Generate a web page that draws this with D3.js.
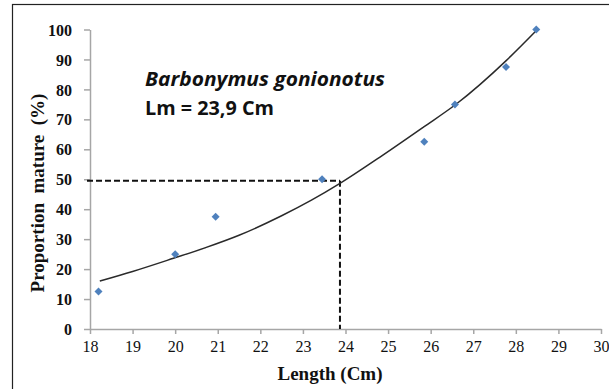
<!DOCTYPE html>
<html>
<head>
<meta charset="utf-8">
<script src="https://cdn.jsdelivr.net/npm/d3@7"></script>
<style>
  body { margin: 0; background: #fff; }
  svg { display: block; }
</style>
</head>
<body>
<svg id="chart" width="609" height="389"></svg>
<script>
// observed points
let lengths = [18.2, 20, 20.95, 23.45, 25.85, 26.57, 27.77, 28.48]
let proportions = [12.5, 25, 37.5, 50, 62.5, 75, 87.5, 100]

// fitted curve
let curveX = [18.23, 19, 19.96, 20.7, 21.5, 22.5, 23.2, 23.87, 24.81, 25.83, 26.61, 27.78, 28.5]
let curveY = [16, 19.2, 23.6, 27.1, 31.3, 37.8, 43, 48.6, 57.4, 67.4, 75.2, 89.7, 99.9]

let xTicks = [18, 19, 20, 21, 22, 23, 24, 25, 26, 27, 28, 29, 30]
let yTicks = [0, 10, 20, 30, 40, 50, 60, 70, 80, 90, 100]
let lm = [23.87, 49.5]

let svg = d3.select('#chart')
let serif = 'Liberation Serif, Times New Roman, serif'

// outer frame (runs off the right / bottom of the picture)
svg.append('rect')
  .attr('x', 12.5).attr('y', 4.5)
  .attr('width', 620).attr('height', 400)
  .attr('fill', 'none').attr('stroke', '#222').attr('stroke-width', 1.2)

let x = d3.scaleLinear().domain([18, 30]).range([90, 601])
let y = d3.scaleLinear().domain([0, 100]).range([329, 29.5])

let axisColor = '#a6a6a6'

let gx = svg.append('g')
  .attr('transform', 'translate(0,' + y(0) + ')')
  .call(d3.axisBottom(x).tickValues(xTicks).tickSize(5).tickSizeOuter(0).tickPadding(7))
let gy = svg.append('g')
  .attr('transform', 'translate(' + x(18) + ',0)')
  .call(d3.axisLeft(y).tickValues(yTicks).tickSize(6).tickSizeOuter(0).tickPadding(12))

gx.selectAll('path, line').attr('stroke', axisColor).attr('stroke-width', 1.5)
gy.selectAll('path, line').attr('stroke', axisColor).attr('stroke-width', 1.5)
gx.selectAll('text')
  .attr('font-family', serif)
  .attr('font-size', '16px')
  .attr('fill', '#111')
gy.selectAll('text')
  .attr('font-family', serif)
  .attr('font-size', '16px')
  .attr('font-weight', 'bold')
  .attr('fill', '#111')
  .attr('dy', '0.35em')

// dashed Lm guide
let dash = svg.append('g')
  .attr('stroke', '#111').attr('stroke-width', 2)
  .attr('stroke-dasharray', '6,3').attr('fill', 'none')
dash.append('path')
  .attr('d', d3.line()([[x(18) - 3, y(lm[1])], [x(lm[0]), y(lm[1])]]))
dash.append('path')
  .attr('d', d3.line()([[x(lm[0]), y(lm[1])], [x(lm[0]), y(0)]]))

// fitted curve
let curvePts = curveX.map((v, i) => [v, curveY[i]])
svg.append('path')
  .datum(curvePts)
  .attr('d', d3.line().x(d => x(d[0])).y(d => y(d[1])).curve(d3.curveMonotoneX))
  .attr('fill', 'none')
  .attr('stroke', '#2a2a2a')
  .attr('stroke-width', 1.5)

// markers
svg.append('g').selectAll('path')
  .data(lengths.map((v, i) => [v, proportions[i]]))
  .enter()
  .append('path')
  .attr('d', d3.symbol(d3.symbolSquare, 32))
  .attr('transform', d => 'translate(' + x(d[0]) + ',' + y(d[1]) + ') rotate(45)')
  .attr('fill', '#4f81bd')

// annotation
svg.append('text')
  .attr('x', 145).attr('y', 86)
  .attr('font-family', 'Open Sans, sans-serif')
  .attr('font-size', '20px')
  .attr('font-weight', 'bold')
  .attr('font-style', 'italic')
  .attr('fill', '#111')
  .attr('textLength', 240).attr('lengthAdjust', 'spacingAndGlyphs')
  .text('Barbonymus gonionotus')
svg.append('text')
  .attr('x', 145).attr('y', 115)
  .attr('font-family', 'Open Sans, sans-serif')
  .attr('font-size', '20px')
  .attr('font-weight', 'bold')
  .attr('fill', '#111')
  .attr('textLength', 129).attr('lengthAdjust', 'spacingAndGlyphs')
  .text('Lm = 23,9 Cm')

// axis titles
svg.append('text')
  .attr('x', 330).attr('y', 380)
  .attr('text-anchor', 'middle')
  .attr('font-family', serif)
  .attr('font-size', '19px')
  .attr('font-weight', 'bold')
  .attr('fill', '#111')
  .text('Length (Cm)')
svg.append('text')
  .attr('transform', 'translate(44,193) rotate(-90)')
  .attr('text-anchor', 'middle')
  .attr('font-family', serif)
  .attr('font-size', '19px')
  .attr('font-weight', 'bold')
  .attr('fill', '#111')
  .attr('xml:space', 'preserve')
  .style('white-space', 'pre')
  .text('Proportion  mature  (%)')
</script>
</body>
</html>
